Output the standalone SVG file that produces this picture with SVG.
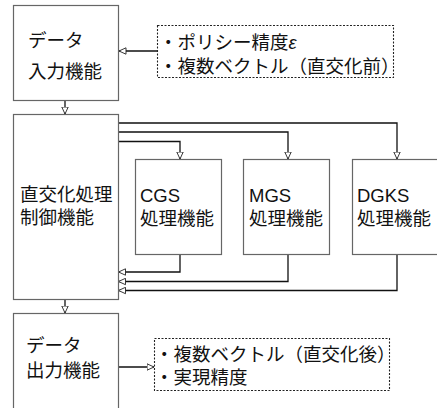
<svg xmlns="http://www.w3.org/2000/svg" width="437" height="408" viewBox="0 0 437 408">
<defs>
<style>
.box{fill:#fff;stroke:#666;stroke-width:1.2}
.dash{fill:#fff;stroke:#222;stroke-width:1.1;stroke-dasharray:2 1.5}
.t{font-family:"Liberation Sans","Noto Sans CJK JP",sans-serif;font-size:18.5px;fill:#111}
.c{fill:none;stroke:#111;stroke-width:1.3}
</style>
<marker id="a" viewBox="0 0 8 8" refX="7.5" refY="4" markerWidth="8" markerHeight="8" markerUnits="userSpaceOnUse" orient="auto">
<path d="M0.5,0.8 L7.5,4 L0.5,7.2 Z" fill="#fff" stroke="#222" stroke-width="0.9"/>
</marker>
</defs>
<rect width="437" height="408" fill="#fff"/>
<g id="connectors">
<path class="c" d="M157,51 H119" marker-end="url(#a)"/>
<path class="c" d="M65,101 V114" marker-end="url(#a)"/>
<path class="c" d="M118,123 H397 V159" marker-end="url(#a)"/>
<path class="c" d="M118,132 H288 V159" marker-end="url(#a)"/>
<path class="c" d="M118,141.5 H180 V159" marker-end="url(#a)"/>
<path class="c" d="M180,254 V272 H118.5" marker-end="url(#a)"/>
<path class="c" d="M288,254 V281.5 H118.5" marker-end="url(#a)"/>
<path class="c" d="M397,254 V290.5 H118.5" marker-end="url(#a)"/>
<path class="c" d="M65,300 V313" marker-end="url(#a)"/>
<path class="c" d="M118,367 H154" marker-end="url(#a)"/>
</g>
<g id="input">
<rect class="box" x="13.5" y="5.5" width="105" height="95"/>
<text class="t"><tspan x="28" y="47">データ</tspan><tspan x="28" y="78">入力機能</tspan></text>
</g>
<g id="input-note">
<rect class="dash" x="157.5" y="25.5" width="236" height="52"/>
<text class="t"><tspan x="159" y="49">・ポリシー精度<tspan font-style="italic">ε</tspan></tspan><tspan x="159" y="73">・複数ベクトル（直交化前）</tspan></text>
</g>
<g id="control">
<rect class="box" x="13.5" y="114.5" width="105" height="185"/>
<text class="t"><tspan x="20" y="201">直交化処理</tspan><tspan x="20" y="224">制御機能</tspan></text>
</g>
<g id="cgs">
<rect class="box" x="135.5" y="159.5" width="86" height="95"/>
<text class="t"><tspan x="140" y="202">CGS</tspan><tspan x="140" y="225">処理機能</tspan></text>
</g>
<g id="mgs">
<rect class="box" x="243.5" y="159.5" width="86" height="95"/>
<text class="t"><tspan x="249" y="202">MGS</tspan><tspan x="249" y="225">処理機能</tspan></text>
</g>
<g id="dgks">
<rect class="box" x="352.5" y="159.5" width="90" height="95"/>
<text class="t"><tspan x="357" y="202">DGKS</tspan><tspan x="357" y="225">処理機能</tspan></text>
</g>
<g id="output">
<rect class="box" x="13.5" y="313.5" width="105" height="100"/>
<text class="t"><tspan x="26" y="352">データ</tspan><tspan x="26" y="377">出力機能</tspan></text>
</g>
<g id="output-note">
<rect class="dash" x="154.5" y="338.5" width="235" height="52"/>
<text class="t"><tspan x="155" y="361">・複数ベクトル（直交化後）</tspan><tspan x="155" y="384">・実現精度</tspan></text>
</g>
</svg>
